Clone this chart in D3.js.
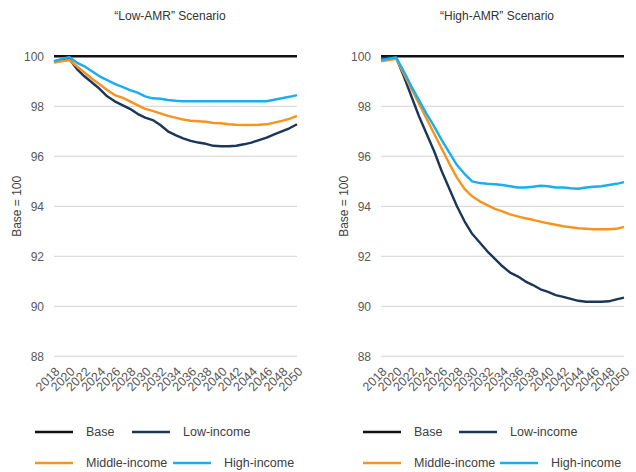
<!DOCTYPE html>
<html>
<head>
<meta charset="utf-8">
<script src="https://cdn.jsdelivr.net/npm/d3@7"></script>
<style>
  body { margin: 0; background: #fff; }
  svg { font-family: "Liberation Sans", Arial, sans-serif; }
</style>
</head>
<body>
<svg id="chart" width="636" height="472"></svg>
<script>
const years = d3.range(2018, 2051);
const yTicks = [88, 90, 92, 94, 96, 98, 100];
const xTicks = d3.range(2018, 2051, 2);

const seriesNames = ['Base', 'Low-income', 'Middle-income', 'High-income'];
const seriesColors = ['#111111', '#1c3659', '#f7941e', '#1aaeef'];

const base = years.map(() => 100);

// "Low-AMR" scenario
const lowAmrLow = [99.8, 99.85, 99.9, 99.5, 99.2, 98.95, 98.7, 98.4, 98.2, 98.05, 97.9, 97.7, 97.55, 97.45, 97.25,
  97.0, 96.85, 96.72, 96.62, 96.55, 96.5, 96.42, 96.4, 96.4, 96.42, 96.48, 96.55, 96.65, 96.75, 96.88, 97.0, 97.12, 97.28];
const lowAmrMid = [99.75, 99.8, 99.85, 99.6, 99.35, 99.1, 98.88, 98.65, 98.45, 98.35, 98.2, 98.05, 97.9, 97.82, 97.72,
  97.62, 97.55, 97.47, 97.42, 97.4, 97.38, 97.33, 97.32, 97.28, 97.26, 97.25, 97.25, 97.26, 97.28, 97.35, 97.42, 97.5, 97.62];
const lowAmrHigh = [99.8, 99.9, 99.97, 99.75, 99.6, 99.4, 99.2, 99.05, 98.9, 98.78, 98.65, 98.55, 98.4, 98.32, 98.3,
  98.25, 98.22, 98.2, 98.2, 98.2, 98.2, 98.2, 98.2, 98.2, 98.2, 98.2, 98.2, 98.2, 98.2, 98.26, 98.32, 98.38, 98.45];

// "High-AMR" scenario
const highAmrLow = [99.9, 99.95, 99.95, 99.2, 98.4, 97.6, 96.9, 96.2, 95.4, 94.7, 94.0, 93.4, 92.9, 92.55, 92.2,
  91.9, 91.6, 91.35, 91.2, 91.0, 90.85, 90.68, 90.58, 90.45, 90.38, 90.3, 90.22, 90.18, 90.18, 90.18, 90.2, 90.28, 90.35];
const highAmrMid = [99.8, 99.85, 99.9, 99.3, 98.7, 98.1, 97.5, 96.9, 96.3, 95.7, 95.15, 94.7, 94.4, 94.2, 94.05,
  93.9, 93.8, 93.68, 93.6, 93.52, 93.46, 93.39, 93.32, 93.26, 93.2, 93.16, 93.12, 93.1, 93.08, 93.08, 93.08, 93.1, 93.18];
const highAmrHigh = [99.85, 99.9, 99.95, 99.4, 98.8, 98.25, 97.7, 97.2, 96.65, 96.15, 95.65, 95.3, 95.0, 94.93, 94.9,
  94.88, 94.85, 94.8, 94.75, 94.75, 94.78, 94.82, 94.8, 94.75, 94.75, 94.72, 94.7, 94.75, 94.78, 94.8, 94.85, 94.9, 94.97];

const svg = d3.select('#chart');

function drawPanel(opts) {
  const g = svg.append('g');
  const x = d3.scaleLinear().domain([2018, 2050]).range([opts.x0, opts.x1]);
  const y = d3.scaleLinear().domain([88, 100]).range([356.3, 56.3]);

  g.append('text').attr('x', opts.titleX).attr('y', 20).attr('text-anchor', 'middle')
    .attr('font-size', 12).attr('fill', '#333').text(opts.title);

  // gridlines
  g.append('g').selectAll('line').data(yTicks.slice(0, -1)).enter().append('line')
    .attr('x1', opts.x0).attr('x2', opts.x1)
    .attr('y1', d => y(d)).attr('y2', d => y(d))
    .attr('stroke', '#dcdcdc').attr('stroke-width', 1.3);

  const yAxis = g.append('g').attr('transform', `translate(${opts.x0 - 10},0)`)
    .call(d3.axisLeft(y).tickValues(yTicks).tickSize(0).tickPadding(0));
  yAxis.select('.domain').remove();
  yAxis.selectAll('text').attr('font-size', 12).attr('fill', '#595959')
    .attr('font-family', '"Liberation Sans", Arial, sans-serif');

  const xAxis = g.append('g').attr('transform', `translate(0,${y(88)})`)
    .call(d3.axisBottom(x).tickValues(xTicks).tickFormat(d3.format('d')).tickSize(0));
  xAxis.select('.domain').remove();
  xAxis.selectAll('text')
    .attr('font-size', 12.5).attr('fill', '#595959')
    .attr('font-family', '"Liberation Sans", Arial, sans-serif')
    .attr('text-anchor', 'end').attr('dy', 0).attr('y', 0)
    .attr('transform', 'translate(6,16) rotate(-45)');

  g.append('text')
    .attr('transform', `translate(${opts.labelX},${y(94)}) rotate(-90)`)
    .attr('text-anchor', 'middle').attr('dy', '0.35em')
    .attr('font-size', 12).attr('fill', '#404040').text('Base = 100');

  const line = d3.line().x((d, i) => x(years[i])).y(d => y(d));
  g.append('g').selectAll('path').data(opts.series).enter().append('path')
    .attr('d', line).attr('fill', 'none')
    .attr('stroke', (d, i) => seriesColors[i]).attr('stroke-width', 2.4)
    .attr('stroke-linejoin', 'round');

  // legend
  const lg = g.append('g');
  const items = seriesNames.map((name, i) => ({
    name, color: seriesColors[i],
    lx: i % 2 === 0 ? opts.legX[0] : opts.legX[i === 1 ? 1 : 2],
    ly: i < 2 ? 432 : 463
  }));
  const it = lg.selectAll('g').data(items).enter().append('g')
    .attr('transform', d => `translate(${d.lx},${d.ly})`);
  it.append('line').attr('x1', 0).attr('x2', 38).attr('stroke', d => d.color).attr('stroke-width', 2.6);
  it.append('text').attr('x', 51).attr('dy', '0.35em').attr('font-size', 12.5).attr('fill', '#404040')
    .text(d => d.name);
}

drawPanel({
  title: '\u201cLow-AMR\u201d Scenario', titleX: 170,
  x0: 54, x1: 297, labelX: 17,
  series: [base, lowAmrLow, lowAmrMid, lowAmrHigh],
  legX: [35, 132, 173]
});

drawPanel({
  title: '\u201cHigh-AMR\u201d Scenario', titleX: 497,
  x0: 381, x1: 624, labelX: 344,
  series: [base, highAmrLow, highAmrMid, highAmrHigh],
  legX: [363, 459, 500]
});
</script>
</body>
</html>
